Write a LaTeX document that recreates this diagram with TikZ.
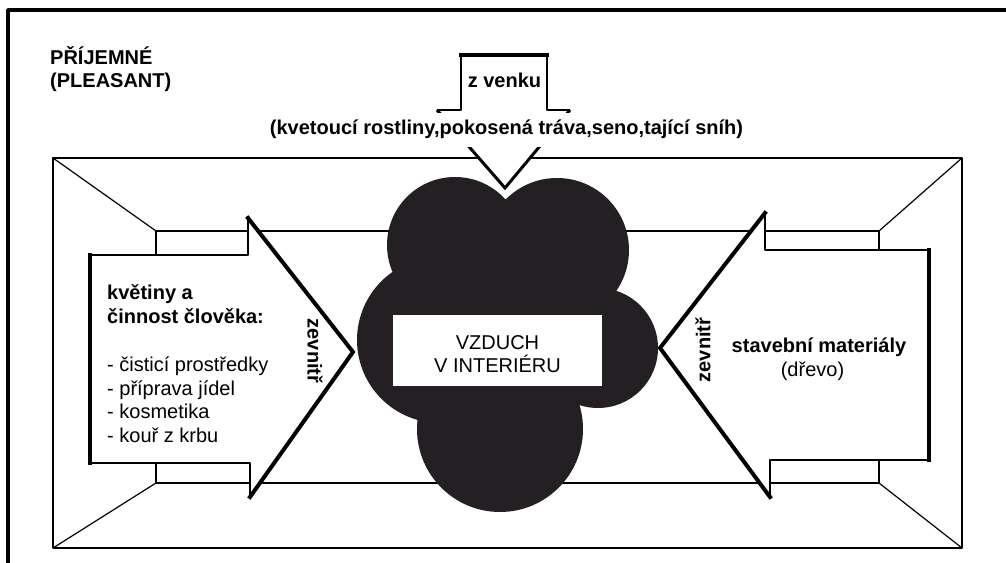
\documentclass[tikz,border=0pt]{standalone}
\usepackage{fontspec}
\setmainfont{Liberation Sans}
\usepackage{tikz}

\definecolor{cloudgray}{RGB}{35,31,34}
\tikzset{
  roomline/.style={line width=1.2bp},
  edgethin/.style={line width=1.3bp},
  edgethick/.style={line width=4bp,line join=miter,line cap=rect},
  lblbold/.style={font=\fontsize{20bp}{23bp}\selectfont\bfseries,inner sep=0pt},
  lblplain/.style={font=\fontsize{20bp}{23bp}\selectfont,inner sep=0pt},
}

\begin{document}
\begin{tikzpicture}[>=latex,line join=bevel,]
\useasboundingbox (0bp,0bp) rectangle (1006bp,563bp);
%%
\draw [line width=3.5bp] (8bp,0bp) -- (8bp,553bp) -- (1006bp,553bp);
% room
\draw [roomline] (53bp,15bp) rectangle (962bp,405bp);
\draw [roomline] (156bp,80bp) rectangle (879bp,332bp);
\draw [roomline] (53bp,405bp) -- (156bp,332bp);
\draw [roomline] (53bp,15bp) -- (156bp,80bp);
\draw [roomline] (962bp,405bp) -- (879bp,332bp);
\draw [roomline] (962bp,15bp) -- (879bp,80bp);
% left arrow
\fill [white] (90bp,308bp) -- (248bp,308bp) -- (248bp,345bp) -- (353bp,211bp) -- (250bp,66bp) -- (250bp,100bp) -- (90bp,100bp) -- cycle;
\draw [edgethin] (90bp,308bp) -- (248bp,308bp) -- (248bp,345bp);
\draw [edgethin] (250bp,66bp) -- (250bp,100bp) -- (90bp,100bp);
\draw [edgethick] (248bp,345bp) -- (353bp,211bp) -- (250bp,66bp);
\draw [edgethick] (90bp,100bp) -- (90bp,308bp);
% right arrow
\fill [white] (929bp,313bp) -- (765bp,313bp) -- (765bp,350bp) -- (660bp,215bp) -- (770bp,66bp) -- (770bp,103bp) -- (929bp,103bp) -- cycle;
\draw [edgethin] (929bp,313bp) -- (765bp,313bp) -- (765bp,350bp);
\draw [edgethin] (770bp,66bp) -- (770bp,103bp) -- (929bp,103bp);
\draw [edgethick] (765bp,350bp) -- (660bp,215bp) -- (770bp,66bp);
\draw [edgethick] (929bp,103bp) -- (929bp,313bp);
% cloud
\fill [cloudgray] (455bp,318bp) circle (68bp) (557bp,313bp) circle (72bp)
  (440bp,223bp) circle (83bp) (598bp,215bp) circle (60bp)
  (500bp,134bp) circle (83bp) (505bp,243bp) circle (90bp);
% top arrow
\fill [white] (461bp,508bp) -- (547bp,508bp) -- (547bp,453bp) -- (570bp,453bp) -- (505bp,375bp) -- (437bp,453bp) -- (461bp,453bp) -- cycle;
\draw [edgethin] (437bp,453bp) -- (461bp,453bp) -- (461bp,508bp);
\draw [edgethin] (570bp,453bp) -- (547bp,453bp) -- (547bp,508bp);
\draw [line width=3.5bp,line cap=rect] (461bp,508bp) -- (547bp,508bp);
\draw [line width=3bp,line join=miter] (437bp,453bp) -- (505bp,375bp) -- (570bp,453bp);
%
\node (pleasant) at (50bp,498bp) [lblbold,anchor=base west] {PŘÍJEMNÉ};
\node (pleasanten) at (50bp,475bp) [lblbold,anchor=base west] {(PLEASANT)};
\node (outside) at (504.5bp,475bp) [lblbold,anchor=base] {z venku};
\node (sources) at (506.5bp,428bp) [lblbold,anchor=base,fill=white,inner xsep=2bp,inner ysep=7bp,text height=15bp,text depth=5bp] {(kvetoucí rostliny,pokosená tráva,seno,tající sníh)};
%
\node (flowers) at (107bp,263bp) [lblbold,anchor=base west] {květiny a};
\node (activity) at (107bp,239bp) [lblbold,anchor=base west] {činnost člověka:};
\node (cleaning) at (107bp,191bp) [lblplain,anchor=base west] {- čisticí prostředky};
\node (cooking) at (107bp,167bp) [lblplain,anchor=base west] {- příprava jídel};
\node (cosmetics) at (107bp,144bp) [lblplain,anchor=base west] {- kosmetika};
\node (fireplace) at (107bp,120bp) [lblplain,anchor=base west] {- kouř z krbu};
\node (insideL) at (315bp,212bp) [lblbold,rotate=-90] {zevnitř};
\node (insideR) at (703bp,213bp) [lblbold,rotate=90] {zevnitř};
\node (materials) at (819bp,210bp) [lblbold,anchor=base] {stavební materiály};
\node (wood) at (812.5bp,186bp) [lblplain,anchor=base] {(dřevo)};
%
\node (airbox) at (497.5bp,212.5bp) [fill=white,minimum width=209bp,minimum height=71bp,inner sep=0pt] {};
\node (air1) at (497.5bp,213bp) [lblplain,anchor=base] {VZDUCH};
\node (air2) at (497.5bp,190bp) [lblplain,anchor=base] {V INTERIÉRU};
%
\end{tikzpicture}
\end{document}
